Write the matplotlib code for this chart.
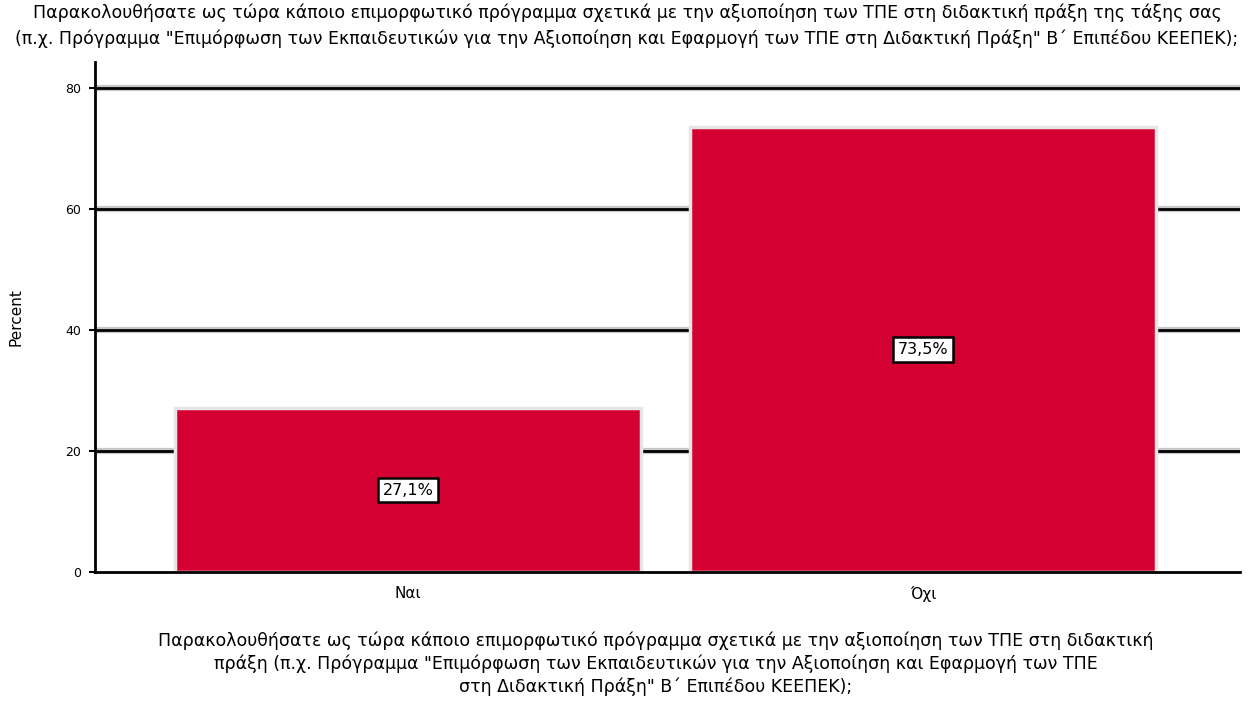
import matplotlib
matplotlib.use("Agg")
import matplotlib.pyplot as plt

# data
categories = ["Ναι", "Όχι"]
percents = [27.1, 73.5]
bar_labels = ["27,1%", "73,5%"]
y_ticks = [0, 20, 40, 60, 80]

title = ("Παρακολουθήσατε ως τώρα κάποιο επιμορφωτικό πρόγραμμα σχετικά με την αξιοποίηση "
         "των ΤΠΕ στη διδακτική πράξη της τάξης σας\n(π.χ. Πρόγραμμα \"Επιμόρφωση των Εκπαιδευτικών για την "
         "Αξιοποίηση και Εφαρμογή των ΤΠΕ στη Διδακτική Πράξη\" Β΄ Επιπέδου ΚΕΕΠΕΚ);")
caption = ("Παρακολουθήσατε ως τώρα κάποιο επιμορφωτικό πρόγραμμα σχετικά με την αξιοποίηση των ΤΠΕ στη διδακτική\n"
           "πράξη (π.χ. Πρόγραμμα \"Επιμόρφωση των Εκπαιδευτικών για την Αξιοποίηση και Εφαρμογή των ΤΠΕ\n"
           "στη Διδακτική Πράξη\" Β΄ Επιπέδου ΚΕΕΠΕΚ);")

plt.rcParams["font.family"] = ["DejaVu Sans"]

fig = plt.figure(figsize=(12.54, 7.04), dpi=100)
ax = fig.add_axes([0.0758, 0.1875, 0.9132, 0.7245])

x = list(range(len(categories)))
ax.set_xlim(-0.608, 1.616)
ax.set_ylim(0, 84.3)

# gridlines drawn behind the bars
for t in y_ticks[1:]:
    ax.axhline(t, color="#c8c8c8", lw=4.5, zorder=1)
    ax.axhline(t, color="black", lw=2.0, zorder=1.5)

bars = ax.bar(x, percents, width=0.905, color="#d40032",
              edgecolor="#e6e6e6", linewidth=2.5, zorder=2)

for b, lab in zip(bars, bar_labels):
    ax.text(b.get_x() + b.get_width() / 2, b.get_height() / 2, lab,
            ha="center", va="center", fontsize=11.5, zorder=3,
            bbox=dict(boxstyle="square,pad=0.3", fc="white", ec="black", lw=1.8))

ax.set_yticks(y_ticks)
ax.set_yticklabels([str(t) for t in y_ticks], fontsize=9)
ax.set_xticks(x)
ax.set_xticklabels(categories, fontsize=11)
ax.tick_params(axis="x", length=0, pad=10)
ax.tick_params(axis="y", length=4, width=1.5, pad=6)
ax.set_ylabel("Percent", fontsize=11, labelpad=30)

for side in ("top", "right"):
    ax.spines[side].set_visible(False)
for side in ("left", "bottom"):
    ax.spines[side].set_linewidth(2.0)
    ax.spines[side].set_zorder(4)

fig.text(0.5, 0.995, title, ha="center", va="top", fontsize=12.5, linespacing=1.5)
fig.text(0.523, 0.103, caption, ha="center", va="top", fontsize=12.5, linespacing=1.3)

fig.savefig("out.png", dpi=100)
